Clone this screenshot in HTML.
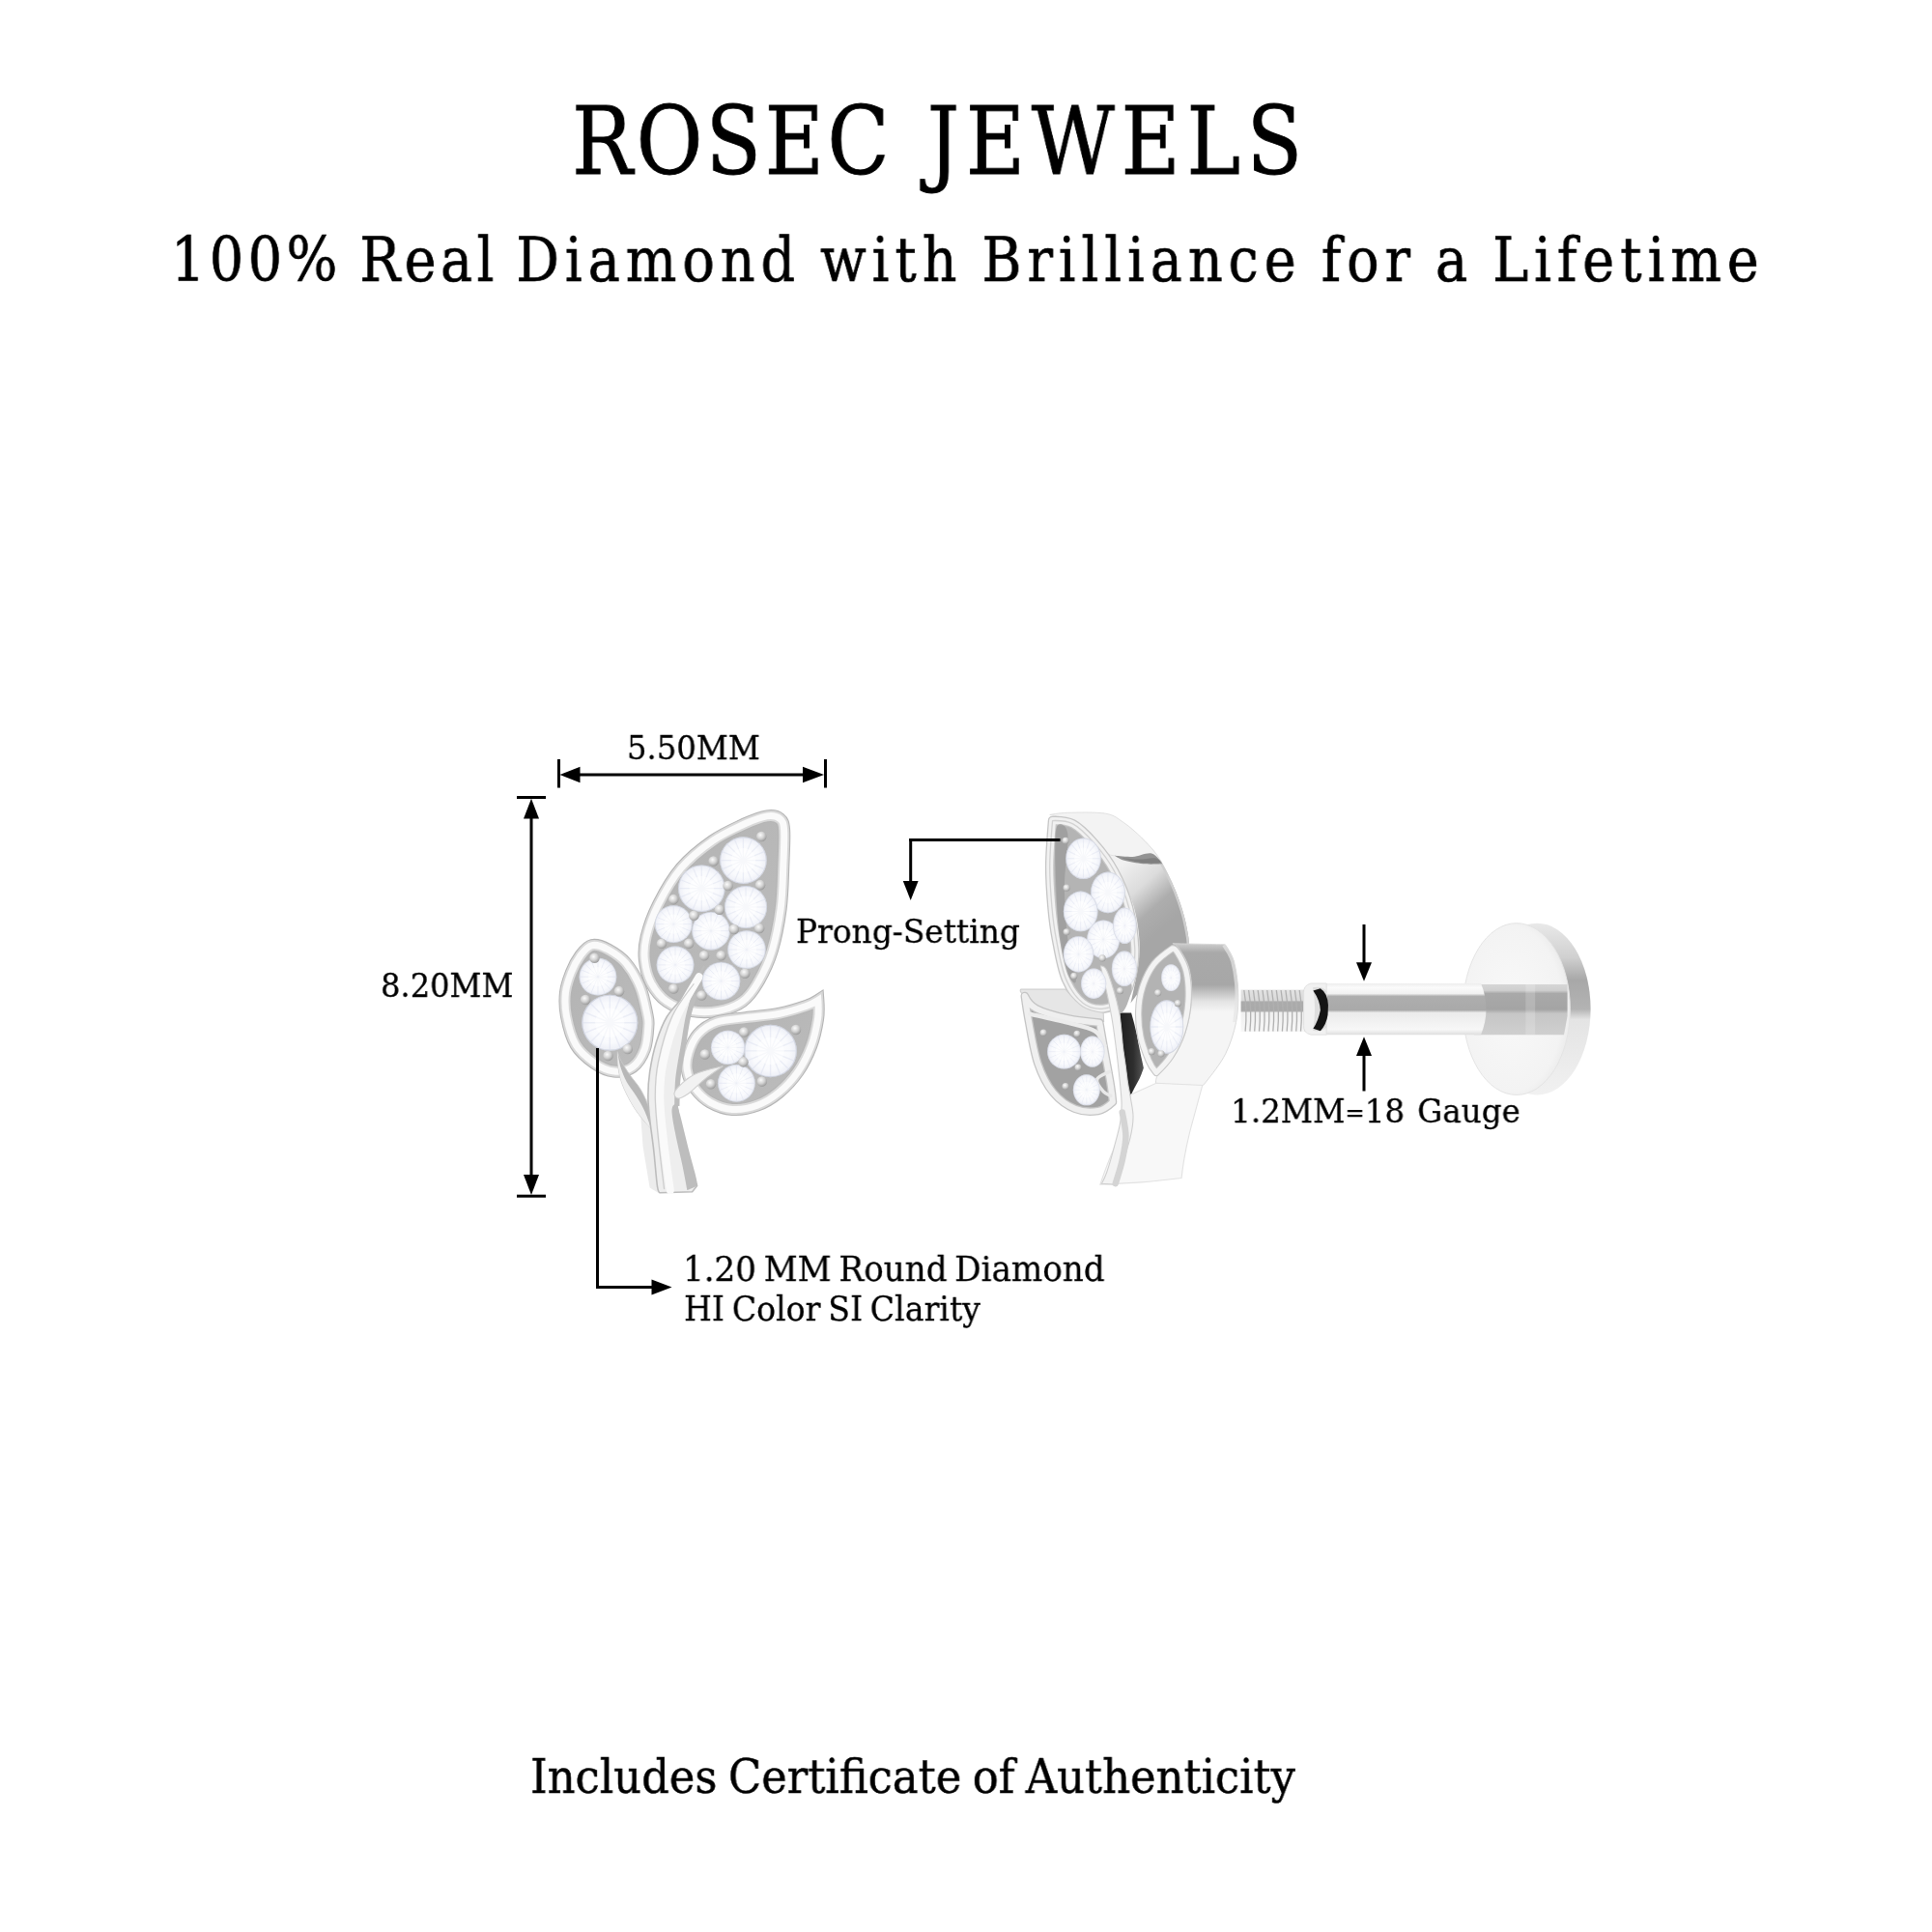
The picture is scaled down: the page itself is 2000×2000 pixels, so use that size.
<!DOCTYPE html>
<html lang="en">
<head>
<meta charset="utf-8">
<title>Rosec Jewels</title>
<style>
html,body{margin:0;padding:0;background:#fff;}
body{width:2000px;height:2000px;position:relative;overflow:hidden;font-family:"DejaVu Serif", "Liberation Serif", serif;color:#000;}
.t{position:absolute;white-space:nowrap;line-height:1;transform-origin:0 0;font-kerning:normal;will-change:transform;}
svg{position:absolute;left:0;top:0;}
</style>
</head>
<body>
<svg width="2000" height="2000" viewBox="0 0 2000 2000">
<defs>
<radialGradient id="gem" cx="50%" cy="50%" r="50%"><stop offset="0" stop-color="#fff"/><stop offset=".72" stop-color="#f9fafd"/><stop offset="1" stop-color="#eceef6"/></radialGradient>
<radialGradient id="bead" cx="40%" cy="35%" r="65%"><stop offset="0" stop-color="#fbfbfb"/><stop offset=".55" stop-color="#d2d2d2"/><stop offset="1" stop-color="#9c9c9c"/></radialGradient>
<linearGradient id="plate" x1="0" y1="0" x2="1" y2="1"><stop offset="0" stop-color="#b2b2b2"/><stop offset="1" stop-color="#bdbdbd"/></linearGradient>
<g id="dia"><circle r="100" fill="url(#gem)"/><path d="M0,-96L0,96M-96,0L96,0M-68,-68L68,68M-68,68L68,-68M-37,-89L37,89M37,-89L-37,89M-89,-37L89,37M-89,37L89,-37" stroke="#d6dbeb" stroke-width="5" fill="none" opacity=".42"/><circle r="52" fill="#fff" opacity=".55"/><circle r="98" fill="none" stroke="#b9bfce" stroke-width="4" opacity=".55"/></g>
<g id="pr"><circle r="30" fill="url(#bead)"/></g>
</defs>
<g id="earring-front" transform="translate(560,800) scale(0.17599)">
<path d="M630,1900L640,2036L665,2236L690,2470L640,2440L600,2200L585,2000Z" fill="#ececec"/>
<path d="M300,1015C327,1009 362,1022 395,1040C428,1058 469,1083 500,1120C531,1157 562,1211 583,1262C604,1313 617,1387 625,1425C633,1463 632,1457 630,1490C628,1523 625,1585 610,1625C595,1665 570,1708 540,1730C510,1752 468,1760 430,1756C392,1752 352,1734 315,1708C278,1682 232,1646 205,1600C178,1554 160,1482 150,1430C140,1378 140,1332 145,1290C150,1248 164,1211 178,1175C192,1139 212,1102 232,1075C252,1048 273,1021 300,1015Z" fill="url(#plate)" stroke="#b4b4b4" stroke-width="74" stroke-linejoin="round" stroke-miterlimit="6"/><path d="M300,1015C327,1009 362,1022 395,1040C428,1058 469,1083 500,1120C531,1157 562,1211 583,1262C604,1313 617,1387 625,1425C633,1463 632,1457 630,1490C628,1523 625,1585 610,1625C595,1665 570,1708 540,1730C510,1752 468,1760 430,1756C392,1752 352,1734 315,1708C278,1682 232,1646 205,1600C178,1554 160,1482 150,1430C140,1378 140,1332 145,1290C150,1248 164,1211 178,1175C192,1139 212,1102 232,1075C252,1048 273,1021 300,1015Z" fill="none" stroke="#d9d9d9" stroke-width="62" stroke-linejoin="round" stroke-miterlimit="6"/><path d="M300,1015C327,1009 362,1022 395,1040C428,1058 469,1083 500,1120C531,1157 562,1211 583,1262C604,1313 617,1387 625,1425C633,1463 632,1457 630,1490C628,1523 625,1585 610,1625C595,1665 570,1708 540,1730C510,1752 468,1760 430,1756C392,1752 352,1734 315,1708C278,1682 232,1646 205,1600C178,1554 160,1482 150,1430C140,1378 140,1332 145,1290C150,1248 164,1211 178,1175C192,1139 212,1102 232,1075C252,1048 273,1021 300,1015Z" fill="none" stroke="#fafafa" stroke-width="40" stroke-linejoin="round" stroke-miterlimit="6"/>
<path d="M1405,270C1388,256 1364,250 1330,255C1296,260 1253,276 1200,300C1147,324 1072,357 1010,400C948,443 878,498 825,560C772,622 724,708 690,775C656,842 633,911 620,965C607,1019 605,1055 610,1100C615,1145 626,1194 648,1235C670,1276 701,1318 740,1345C779,1372 829,1391 880,1400C931,1409 994,1409 1045,1400C1096,1391 1147,1372 1185,1345C1223,1318 1246,1285 1275,1235C1304,1185 1338,1118 1360,1045C1382,972 1399,882 1410,800C1421,718 1422,627 1425,550C1428,473 1433,387 1430,340C1427,293 1422,284 1405,270Z" fill="url(#plate)" stroke="#b4b4b4" stroke-width="74" stroke-linejoin="round" stroke-miterlimit="6"/><path d="M1405,270C1388,256 1364,250 1330,255C1296,260 1253,276 1200,300C1147,324 1072,357 1010,400C948,443 878,498 825,560C772,622 724,708 690,775C656,842 633,911 620,965C607,1019 605,1055 610,1100C615,1145 626,1194 648,1235C670,1276 701,1318 740,1345C779,1372 829,1391 880,1400C931,1409 994,1409 1045,1400C1096,1391 1147,1372 1185,1345C1223,1318 1246,1285 1275,1235C1304,1185 1338,1118 1360,1045C1382,972 1399,882 1410,800C1421,718 1422,627 1425,550C1428,473 1433,387 1430,340C1427,293 1422,284 1405,270Z" fill="none" stroke="#d9d9d9" stroke-width="62" stroke-linejoin="round" stroke-miterlimit="6"/><path d="M1405,270C1388,256 1364,250 1330,255C1296,260 1253,276 1200,300C1147,324 1072,357 1010,400C948,443 878,498 825,560C772,622 724,708 690,775C656,842 633,911 620,965C607,1019 605,1055 610,1100C615,1145 626,1194 648,1235C670,1276 701,1318 740,1345C779,1372 829,1391 880,1400C931,1409 994,1409 1045,1400C1096,1391 1147,1372 1185,1345C1223,1318 1246,1285 1275,1235C1304,1185 1338,1118 1360,1045C1382,972 1399,882 1410,800C1421,718 1422,627 1425,550C1428,473 1433,387 1430,340C1427,293 1422,284 1405,270Z" fill="none" stroke="#fafafa" stroke-width="40" stroke-linejoin="round" stroke-miterlimit="6"/>
<path d="M1630,1338C1630,1338 1598,1359 1560,1372C1522,1385 1464,1404 1405,1416C1346,1428 1267,1433 1205,1441C1143,1449 1082,1450 1035,1466C988,1482 952,1508 925,1538C898,1568 881,1610 870,1645C859,1680 854,1715 860,1750C866,1785 882,1824 905,1855C928,1886 958,1917 995,1938C1032,1959 1079,1977 1125,1980C1171,1983 1226,1973 1272,1956C1318,1939 1360,1913 1400,1880C1440,1847 1480,1804 1512,1758C1544,1712 1571,1656 1590,1605C1609,1554 1621,1494 1628,1450C1635,1406 1630,1338 1630,1338Z" fill="url(#plate)" stroke="#b4b4b4" stroke-width="74" stroke-linejoin="miter" stroke-miterlimit="6"/><path d="M1630,1338C1630,1338 1598,1359 1560,1372C1522,1385 1464,1404 1405,1416C1346,1428 1267,1433 1205,1441C1143,1449 1082,1450 1035,1466C988,1482 952,1508 925,1538C898,1568 881,1610 870,1645C859,1680 854,1715 860,1750C866,1785 882,1824 905,1855C928,1886 958,1917 995,1938C1032,1959 1079,1977 1125,1980C1171,1983 1226,1973 1272,1956C1318,1939 1360,1913 1400,1880C1440,1847 1480,1804 1512,1758C1544,1712 1571,1656 1590,1605C1609,1554 1621,1494 1628,1450C1635,1406 1630,1338 1630,1338Z" fill="none" stroke="#d9d9d9" stroke-width="62" stroke-linejoin="miter" stroke-miterlimit="6"/><path d="M1630,1338C1630,1338 1598,1359 1560,1372C1522,1385 1464,1404 1405,1416C1346,1428 1267,1433 1205,1441C1143,1449 1082,1450 1035,1466C988,1482 952,1508 925,1538C898,1568 881,1610 870,1645C859,1680 854,1715 860,1750C866,1785 882,1824 905,1855C928,1886 958,1917 995,1938C1032,1959 1079,1977 1125,1980C1171,1983 1226,1973 1272,1956C1318,1939 1360,1913 1400,1880C1440,1847 1480,1804 1512,1758C1544,1712 1571,1656 1590,1605C1609,1554 1621,1494 1628,1450C1635,1406 1630,1338 1630,1338Z" fill="none" stroke="#fafafa" stroke-width="40" stroke-linejoin="miter" stroke-miterlimit="6"/>
<path d="M450,1640C450,1640 450,1703 455,1736C460,1769 466,1799 480,1836C494,1873 520,1922 540,1956C560,1990 581,2016 600,2040C619,2064 655,2100 655,2100C655,2100 656,2043 650,2016C644,1989 633,1963 622,1936C611,1909 599,1883 582,1856C565,1829 540,1803 522,1776C504,1749 484,1719 472,1696C460,1673 450,1640 450,1640Z" fill="#b7b7b7" stroke="#c9c9c9" stroke-width="5"/>
<path d="M450,1640C450,1640 450,1703 455,1736C460,1769 466,1799 480,1836C494,1873 520,1922 540,1956C560,1990 582,2017 600,2040C618,2063 650,2096 650,2096C650,2096 625,2023 610,1990C595,1957 578,1928 560,1900C542,1872 520,1848 505,1820C490,1792 477,1760 468,1730C459,1700 450,1640 450,1640Z" fill="#efefef"/>
<path d="M960,1136C960,1136 887,1250 850,1300C813,1350 768,1389 740,1436C712,1483 697,1526 680,1580C663,1634 648,1707 640,1760C632,1813 630,1854 630,1900C630,1946 634,1980 640,2036C646,2092 658,2169 665,2236C672,2303 679,2397 685,2436C691,2475 700,2470 700,2470C700,2470 890,2465 890,2465C890,2465 918,2430 918,2430C918,2430 910,2388 900,2350C890,2312 873,2252 860,2200C847,2148 830,2078 820,2036C810,1994 803,1989 800,1950C797,1911 794,1858 800,1800C806,1742 825,1661 835,1600C845,1539 849,1489 860,1436C871,1383 883,1330 900,1280C917,1230 960,1136 960,1136Z" fill="#eeeeee" stroke="#bcbcbc" stroke-width="9"/>
<path d="M800,1950C808,1959 810,1994 820,2036C830,2078 847,2148 860,2200C873,2252 890,2312 900,2350C910,2388 918,2430 918,2430C918,2430 860,2455 860,2455C860,2455 842,2356 830,2300C818,2244 800,2173 790,2120C780,2067 768,2008 770,1980C772,1952 792,1941 800,1950Z" fill="#bdbdbd"/>
<path d="M905,1300C898,1323 877,1386 866,1436C855,1486 848,1539 838,1600C828,1661 812,1740 806,1800C800,1860 801,1933 800,1960" fill="none" stroke="#bdbdbd" stroke-width="30"/>
<path d="M930,1200C908,1239 835,1353 800,1436C765,1519 737,1623 720,1700C703,1777 700,1825 700,1900C700,1975 710,2058 720,2150C730,2242 753,2404 760,2455" fill="none" stroke="#fafafa" stroke-width="46" stroke-linecap="round"/>
<path d="M900,1240C878,1273 805,1359 770,1436C735,1513 706,1623 690,1700C674,1777 672,1825 672,1900C672,1975 681,2058 690,2150C699,2242 719,2400 725,2450" fill="none" stroke="#cdcdcd" stroke-width="7"/>
<path d="M790,1870C806,1847 853,1800 900,1776C947,1752 1070,1726 1070,1726C1070,1726 993,1778 960,1805C927,1832 896,1867 870,1885C844,1903 818,1918 805,1915C792,1912 774,1893 790,1870Z" fill="#f2f2f2" stroke="#cfcfcf" stroke-width="6"/>
<use href="#dia" transform="translate(1190,515) scale(1.38)"/>
<use href="#dia" transform="translate(945,680) scale(1.38)"/>
<use href="#dia" transform="translate(1205,790) scale(1.25)"/>
<use href="#dia" transform="translate(780,890) scale(1.10)"/>
<use href="#dia" transform="translate(1000,930) scale(1.12)"/>
<use href="#dia" transform="translate(1210,1040) scale(1.12)"/>
<use href="#dia" transform="translate(790,1130) scale(1.10)"/>
<use href="#dia" transform="translate(1060,1225) scale(1.12)"/>
<use href="#dia" transform="translate(335,1200) scale(1.10)"/>
<use href="#dia" transform="translate(405,1470) scale(1.65)"/>
<use href="#dia" transform="translate(1100,1616) scale(1.00)"/>
<use href="#dia" transform="translate(1350,1636) scale(1.55)"/>
<use href="#dia" transform="translate(1150,1826) scale(1.10)"/>
<use href="#pr" x="1297" y="375"/>
<use href="#pr" x="1015" y="520"/>
<use href="#pr" x="1290" y="660"/>
<use href="#pr" x="1100" y="665"/>
<use href="#pr" x="780" y="745"/>
<use href="#pr" x="1050" y="805"/>
<use href="#pr" x="900" y="840"/>
<use href="#pr" x="1285" y="915"/>
<use href="#pr" x="1135" y="920"/>
<use href="#pr" x="710" y="1005"/>
<use href="#pr" x="870" y="1005"/>
<use href="#pr" x="960" y="1075"/>
<use href="#pr" x="1060" y="1075"/>
<use href="#pr" x="1200" y="1180"/>
<use href="#pr" x="780" y="1270"/>
<use href="#pr" x="945" y="1310"/>
<use href="#pr" x="315" y="1090"/>
<use href="#pr" x="460" y="1285"/>
<use href="#pr" x="262" y="1335"/>
<use href="#pr" x="510" y="1625"/>
<use href="#pr" x="395" y="1665"/>
<use href="#pr" x="1500" y="1511"/>
<use href="#pr" x="1195" y="1526"/>
<use href="#pr" x="965" y="1656"/>
<use href="#pr" x="1190" y="1701"/>
<use href="#pr" x="1300" y="1816"/>
<use href="#pr" x="1000" y="1831"/>
</g>
<defs>
<linearGradient id="band1" gradientUnits="userSpaceOnUse" x1="560" y1="290" x2="800" y2="560"><stop offset="0" stop-color="#f1f1f1"/><stop offset=".4" stop-color="#dcdcdc"/><stop offset=".72" stop-color="#adadad"/><stop offset="1" stop-color="#a6a6a6"/></linearGradient>
<linearGradient id="band2" gradientUnits="userSpaceOnUse" x1="0" y1="680" x2="0" y2="1000"><stop offset="0" stop-color="#c9c9c9"/><stop offset=".12" stop-color="#a9a9a9"/><stop offset=".6" stop-color="#a7a7a7"/><stop offset=".85" stop-color="#e4e4e4"/><stop offset="1" stop-color="#f5f5f5"/></linearGradient><clipPath id="cb1"><path d="M215,62C215,62 256,53 300,52C344,51 436,48 481,56C526,64 538,80 567,99C596,118 628,148 652,171C676,194 695,214 712,236C729,258 741,275 755,300C769,325 785,358 798,386C811,414 822,442 832,471C842,500 851,528 858,557C865,586 871,618 875,643C879,668 880,705 880,705C880,705 807,718 760,760C713,802 600,960 600,960C600,960 629,833 636,780C643,727 644,687 640,640C636,593 628,545 615,500C602,455 582,413 560,370C538,327 508,278 481,240C454,202 424,167 395,141C366,115 339,99 309,86C279,73 215,62 215,62Z"/></clipPath><clipPath id="cb2"><path d="M800,675C800,675 1050,680 1050,680C1050,680 1082,723 1092,760C1102,797 1110,852 1112,900C1114,948 1112,1000 1102,1050C1092,1100 1075,1153 1052,1200C1029,1247 981,1305 962,1330C943,1355 940,1352 940,1352C940,1352 720,1342 720,1342C720,1342 717,1320 730,1300C743,1280 778,1253 800,1220C822,1187 845,1145 860,1100C875,1055 887,1000 890,950C893,900 890,842 880,800C870,758 845,721 832,700C819,679 800,675 800,675Z"/></clipPath>
<linearGradient id="thr" x1="0" y1="0" x2="0" y2="1"><stop offset="0" stop-color="#e2e2e2"/><stop offset=".25" stop-color="#dadada"/><stop offset=".29" stop-color="#ababab"/><stop offset=".5" stop-color="#a9a9a9"/><stop offset=".55" stop-color="#f0f0f0"/><stop offset="1" stop-color="#f7f7f7"/></linearGradient>
<linearGradient id="post" x1="0" y1="0" x2="0" y2="1"><stop offset="0" stop-color="#ededed"/><stop offset=".08" stop-color="#fbfbfb"/><stop offset=".2" stop-color="#f1f1f1"/><stop offset=".25" stop-color="#aeaeae"/><stop offset=".52" stop-color="#a9a9a9"/><stop offset=".57" stop-color="#ebebeb"/><stop offset=".9" stop-color="#f7f7f7"/><stop offset="1" stop-color="#dedede"/></linearGradient>
<linearGradient id="refl" x1="0" y1="0" x2="0" y2="1"><stop offset="0" stop-color="#d6d6d6"/><stop offset=".12" stop-color="#cfcfcf"/><stop offset=".18" stop-color="#a9a9a9"/><stop offset=".5" stop-color="#a4a4a4"/><stop offset=".58" stop-color="#c6c6c6"/><stop offset="1" stop-color="#cfcfcf"/></linearGradient>
<linearGradient id="rim" x1="0" y1="0" x2="0" y2="1"><stop offset="0" stop-color="#e9e9e9"/><stop offset=".2" stop-color="#d0d0d0"/><stop offset=".33" stop-color="#a8a8a8"/><stop offset=".5" stop-color="#b3b3b3"/><stop offset=".56" stop-color="#e4e4e4"/><stop offset="1" stop-color="#f1f1f1"/></linearGradient>
<linearGradient id="gap" gradientUnits="userSpaceOnUse" x1="550" y1="0" x2="665" y2="0"><stop offset="0" stop-color="#1f1f1f"/><stop offset=".55" stop-color="#2e2e2e"/><stop offset="1" stop-color="#5a5a5a"/></linearGradient><radialGradient id="face" cx="45%" cy="50%" r="60%"><stop offset="0" stop-color="#f9f9f9"/><stop offset=".8" stop-color="#f3f3f3"/><stop offset="1" stop-color="#e7e7e7"/></radialGradient>
</defs>
<g id="earring-side" transform="translate(1040,830) scale(0.21739)">
<path d="M215,62C215,62 256,53 300,52C344,51 436,48 481,56C526,64 538,80 567,99C596,118 628,148 652,171C676,194 695,214 712,236C729,258 741,275 755,300C769,325 785,358 798,386C811,414 822,442 832,471C842,500 851,528 858,557C865,586 871,618 875,643C879,668 880,705 880,705C880,705 807,718 760,760C713,802 600,960 600,960C600,960 629,833 636,780C643,727 644,687 640,640C636,593 628,545 615,500C602,455 582,413 560,370C538,327 508,278 481,240C454,202 424,167 395,141C366,115 339,99 309,86C279,73 215,62 215,62Z" fill="url(#band1)"/>
<path d="M652,171C662,182 695,214 712,236C729,258 741,275 755,300C769,325 785,358 798,386C811,414 822,442 832,471C842,500 851,528 858,557C865,586 871,618 875,643C879,668 879,695 880,705" fill="none" stroke="#cfcfcf" stroke-width="22" clip-path="url(#cb1)"/>
<path d="M215,62C215,62 256,53 300,52C344,51 436,48 481,56C526,64 538,80 567,99C596,118 628,148 652,171C676,194 696,216 712,236C728,256 748,288 748,288C748,288 689,295 652,290C615,285 524,256 524,256C524,256 502,259 481,240C460,221 424,167 395,141C366,115 339,99 309,86C279,73 215,62 215,62Z" fill="#f3f3f3" stroke="#dddddd" stroke-width="4"/>
<path d="M524,257C524,257 581,264 610,262C639,260 676,240 700,246C724,252 752,296 752,296C752,296 690,299 660,296C630,293 593,286 570,280C547,274 524,257 524,257Z" fill="#939393"/>
<path d="M560,268C558,265 614,274 640,274C666,274 698,265 715,268C732,271 751,286 740,290C729,294 680,294 650,290C620,286 562,271 560,268Z" fill="#6f6f6f" opacity=".55"/>
<path d="M228,90C228,90 216,232 215,300C214,368 220,442 225,500C230,558 234,593 245,650C256,707 269,789 290,840C311,891 342,934 372,958C402,982 439,988 470,985C501,982 538,963 560,940C582,917 593,885 603,845C613,805 622,757 620,700C618,643 608,567 592,505C576,443 550,382 522,330C494,278 458,232 425,195C392,158 358,122 325,105C292,88 228,90 228,90Z" fill="#b4b4b4" stroke="#c6c6c6" stroke-width="44" stroke-linejoin="round"/>
<path d="M228,90C228,90 216,232 215,300C214,368 220,442 225,500C230,558 234,593 245,650C256,707 269,789 290,840C311,891 342,934 372,958C402,982 439,988 470,985C501,982 538,963 560,940C582,917 593,885 603,845C613,805 622,757 620,700C618,643 608,567 592,505C576,443 550,382 522,330C494,278 458,232 425,195C392,158 358,122 325,105C292,88 228,90 228,90Z" fill="none" stroke="#f1f1f1" stroke-width="32" stroke-linejoin="round"/>
<path d="M228,90C228,90 216,232 215,300C214,368 220,442 225,500C230,558 234,593 245,650C256,707 269,789 290,840C311,891 342,934 372,958C402,982 439,988 470,985C501,982 538,963 560,940C582,917 593,885 603,845C613,805 622,757 620,700C618,643 608,567 592,505C576,443 550,382 522,330C494,278 458,232 425,195C392,158 358,122 325,105C292,88 228,90 228,90Z" fill="none" stroke="#d2d2d2" stroke-width="6" stroke-linejoin="round"/>
<path d="M245,130C254,88 293,105 300,150C307,195 285,317 285,400C285,483 291,575 300,650C309,725 340,822 340,850C340,878 313,853 300,820C287,787 271,720 262,650C253,580 248,487 245,400C242,313 236,172 245,130Z" fill="#8f8f8f" opacity=".55"/>
<path d="M78,893C78,893 290,893 290,893C290,893 342,956 372,975C402,994 470,1005 470,1005C470,1005 472,1046 472,1046C472,1046 354,1035 300,1024C246,1013 187,997 150,978C113,959 92,924 80,910C68,896 78,893 78,893Z" fill="#e6e6e6" stroke="#cfcfcf" stroke-width="5"/>
<path d="M96,925C96,925 116,967 150,985C184,1003 250,1021 300,1032C350,1043 452,1052 452,1052C452,1052 469,1150 478,1200C487,1250 499,1312 505,1350C511,1388 515,1430 515,1430C515,1430 475,1467 445,1472C415,1477 370,1476 335,1462C300,1448 262,1422 232,1386C202,1350 177,1301 158,1245C139,1189 126,1103 116,1050C106,997 96,925 96,925Z" fill="#a2a2a2" stroke="#c4c4c4" stroke-width="40" stroke-linejoin="round"/>
<path d="M96,925C96,925 116,967 150,985C184,1003 250,1021 300,1032C350,1043 452,1052 452,1052C452,1052 469,1150 478,1200C487,1250 499,1312 505,1350C511,1388 515,1430 515,1430C515,1430 475,1467 445,1472C415,1477 370,1476 335,1462C300,1448 262,1422 232,1386C202,1350 177,1301 158,1245C139,1189 126,1103 116,1050C106,997 96,925 96,925Z" fill="none" stroke="#efefef" stroke-width="28" stroke-linejoin="round"/>
<path d="M120,1010C150,1017 248,1038 300,1052C352,1066 401,1074 430,1092C459,1110 468,1149 476,1160" fill="none" stroke="#ececec" stroke-width="20" stroke-linecap="round"/>
<path d="M500,1285C490,1291 445,1306 440,1322C435,1338 459,1367 470,1380C481,1393 499,1397 505,1400" fill="none" stroke="#e8e8e8" stroke-width="16" stroke-linecap="round"/>
<path d="M549,1005C549,1005 603,1005 603,1005C603,1005 613,1039 617,1056C621,1073 625,1089 629,1107C633,1125 636,1146 640,1165C644,1184 648,1205 652,1222C656,1239 662,1267 662,1267C662,1267 650,1303 642,1319C634,1335 625,1350 617,1365C609,1380 595,1412 595,1412C595,1412 589,1363 586,1336C583,1309 579,1278 575,1250C571,1222 566,1194 563,1165C560,1136 557,1106 555,1079C553,1052 549,1005 549,1005Z" fill="url(#gap)"/>
<path d="M490,820C507,813 584,837 600,860C616,883 594,936 585,960C576,984 559,1015 545,1005C531,995 509,931 500,900C491,869 473,827 490,820Z" fill="#b5b5b5"/>
<path d="M800,675C800,675 1050,680 1050,680C1050,680 1082,723 1092,760C1102,797 1110,852 1112,900C1114,948 1112,1000 1102,1050C1092,1100 1075,1153 1052,1200C1029,1247 981,1305 962,1330C943,1355 940,1352 940,1352C940,1352 720,1342 720,1342C720,1342 717,1320 730,1300C743,1280 778,1253 800,1220C822,1187 845,1145 860,1100C875,1055 887,1000 890,950C893,900 890,842 880,800C870,758 845,721 832,700C819,679 800,675 800,675Z" fill="url(#band2)" stroke="#d6d6d6" stroke-width="4"/>
<path d="M1050,680C1057,693 1082,723 1092,760C1102,797 1110,852 1112,900C1114,948 1104,1025 1102,1050" fill="none" stroke="#e6e6e6" stroke-width="30" clip-path="url(#cb2)" opacity=".7"/>
<path d="M800,698C800,698 736,741 712,772C688,803 668,847 656,885C644,923 639,961 638,1000C637,1039 640,1079 648,1118C656,1157 674,1203 686,1232C698,1261 722,1290 722,1290C722,1290 769,1244 790,1212C811,1180 832,1140 846,1096C860,1052 871,998 874,950C877,902 873,845 864,806C855,767 833,734 822,716C811,698 800,698 800,698Z" fill="#b3b3b3" stroke="#c8c8c8" stroke-width="34" stroke-linejoin="round"/>
<path d="M800,698C800,698 736,741 712,772C688,803 668,847 656,885C644,923 639,961 638,1000C637,1039 640,1079 648,1118C656,1157 674,1203 686,1232C698,1261 722,1290 722,1290C722,1290 769,1244 790,1212C811,1180 832,1140 846,1096C860,1052 871,998 874,950C877,902 873,845 864,806C855,767 833,734 822,716C811,698 800,698 800,698Z" fill="none" stroke="#f3f3f3" stroke-width="24" stroke-linejoin="round"/>
<path d="M600,1395C600,1395 722,1340 722,1340C722,1340 942,1350 942,1350C942,1350 925,1412 915,1450C905,1488 890,1538 880,1580C870,1622 861,1665 855,1700C849,1735 842,1792 842,1792C842,1792 714,1807 650,1812C586,1817 455,1822 455,1822C455,1822 482,1744 500,1700C518,1656 545,1598 560,1560C575,1522 585,1498 592,1470C599,1442 600,1395 600,1395Z" fill="#f8f8f8" stroke="#e2e2e2" stroke-width="5"/>
<path d="M457,782C457,782 477,867 486,907C495,947 502,984 509,1022C516,1060 521,1098 526,1136C531,1174 536,1212 540,1250C544,1288 549,1332 552,1365C555,1398 558,1422 557,1450C556,1478 555,1503 549,1536C543,1569 530,1612 520,1650C510,1688 496,1737 486,1765C476,1793 462,1818 462,1818C462,1818 520,1822 520,1822C520,1822 547,1757 560,1720C573,1683 589,1637 598,1600C607,1563 612,1531 612,1500C612,1469 604,1439 600,1412C596,1385 590,1363 586,1336C582,1309 579,1278 575,1250C571,1222 566,1194 563,1165C560,1136 558,1106 555,1079C552,1052 551,1030 545,1000C539,970 530,933 520,900C510,867 496,820 485,800C474,780 457,782 457,782Z" fill="#f3f3f3" stroke="#cfcfcf" stroke-width="5"/>
<path d="M560,1479C563,1498 577,1555 577,1593C577,1631 568,1670 560,1707C552,1744 533,1800 528,1818" fill="none" stroke="#d4d4d4" stroke-width="30" stroke-linecap="round"/>
<use href="#dia" transform="translate(375,270) scale(0.84,0.98)"/>
<use href="#dia" transform="translate(492,432) scale(0.82,0.98)"/>
<use href="#dia" transform="translate(362,522) scale(0.82,0.96)"/>
<use href="#dia" transform="translate(470,655) scale(0.78,0.92)"/>
<use href="#dia" transform="translate(572,590) scale(0.56,0.86)"/>
<use href="#dia" transform="translate(352,726) scale(0.72,0.86)"/>
<use href="#dia" transform="translate(570,795) scale(0.60,0.84)"/>
<use href="#dia" transform="translate(424,866) scale(0.60,0.72)"/>
<use href="#dia" transform="translate(283,1190) scale(0.80,0.82)"/>
<use href="#dia" transform="translate(418,1190) scale(0.58,0.74)"/>
<use href="#dia" transform="translate(390,1372) scale(0.64,0.74)"/>
<use href="#dia" transform="translate(792,838) scale(0.46,0.64)"/>
<use href="#dia" transform="translate(772,1072) scale(0.80,1.28)"/>
<use href="#pr" transform="translate(290,185) scale(.55)"/>
<use href="#pr" transform="translate(295,410) scale(.55)"/>
<use href="#pr" transform="translate(295,620) scale(.55)"/>
<use href="#pr" transform="translate(330,830) scale(.55)"/>
<use href="#pr" transform="translate(465,745) scale(.55)"/>
<use href="#pr" transform="translate(550,900) scale(.55)"/>
<use href="#pr" transform="translate(185,1100) scale(.55)"/>
<use href="#pr" transform="translate(345,1105) scale(.55)"/>
<use href="#pr" transform="translate(350,1265) scale(.55)"/>
<use href="#pr" transform="translate(290,1355) scale(.55)"/>
<use href="#pr" transform="translate(730,910) scale(.55)"/>
<use href="#pr" transform="translate(825,960) scale(.55)"/>
<use href="#pr" transform="translate(700,1190) scale(.55)"/>
<use href="#pr" transform="translate(745,1200) scale(.55)"/>
<rect x="1125" y="895" width="360" height="200" fill="url(#thr)"/>
<g stroke="#b0b0b0" stroke-width="6" fill="none"><path d="M1140,897Q1156,995 1146,1093"/><path d="M1162,897Q1178,995 1168,1093"/><path d="M1184,897Q1200,995 1190,1093"/><path d="M1206,897Q1222,995 1212,1093"/><path d="M1228,897Q1244,995 1234,1093"/><path d="M1250,897Q1266,995 1256,1093"/><path d="M1272,897Q1288,995 1278,1093"/><path d="M1294,897Q1310,995 1300,1093"/><path d="M1316,897Q1332,995 1322,1093"/><path d="M1338,897Q1354,995 1344,1093"/><path d="M1360,897Q1376,995 1366,1093"/><path d="M1382,897Q1398,995 1388,1093"/><path d="M1404,897Q1420,995 1410,1093"/><path d="M1426,897Q1442,995 1432,1093"/><path d="M1448,897Q1464,995 1454,1093"/><path d="M1470,897Q1486,995 1476,1093"/></g>
</g>
<g id="post-disc" transform="translate(1300,900) scale(0.19670)">
<ellipse cx="1480" cy="735" rx="282" ry="452" fill="url(#rim)"/>
<ellipse cx="1372" cy="735" rx="282" ry="452" fill="url(#face)" stroke="#e3e3e3" stroke-width="5"/>
<path d="M1150,605L1640,605L1640,772L1622,870L1150,870Z" fill="url(#refl)"/>
<path d="M1420,605L1470,605L1470,870L1420,870Z" fill="#fff" opacity=".18"/>
<path d="M370,600L1185,600Q1240,735 1185,870L370,870Z" fill="url(#post)"/>
<path d="M290,600L372,600L372,870L290,870Q248,860 252,820L252,650Q250,610 290,600Z" fill="#f1f1f1" stroke="#e0e0e0" stroke-width="5"/>
<path d="M300,622Q345,610 372,640L372,830Q345,860 300,848Q322,735 300,622Z" fill="#dddddd"/>
<path d="M302,638L340,626Q378,650 381,714L379,765Q372,815 340,850L302,837Q328,800 340,741Q338,690 302,638Z" fill="#141414"/>
</g>
<g id="dims" fill="#000" stroke="none">
  <!-- width dimension 5.50MM -->
  <rect x="577" y="786" width="3" height="29.5"/>
  <rect x="853" y="786" width="3" height="29.5"/>
  <rect x="596" y="800.5" width="240" height="3"/>
  <polygon points="579.5,802 600.5,793.8 600.5,810.2"/>
  <polygon points="853,802 831,793.8 831,810.2"/>
  <!-- height dimension 8.20MM -->
  <rect x="535" y="824" width="30" height="3"/>
  <rect x="535" y="1236.7" width="30" height="3"/>
  <rect x="548.5" y="843" width="3" height="378"/>
  <polygon points="550,826.8 542,847.6 558,847.6"/>
  <polygon points="550,1237 542,1216 558,1216"/>
  <!-- diamond leader -->
  <rect x="617" y="1085" width="3" height="249"/>
  <rect x="617" y="1331" width="60" height="3"/>
  <polygon points="695.5,1332.5 674.5,1324.6 674.5,1340.4"/>
  <!-- prong leader -->
  <rect x="941.2" y="868" width="156.3" height="3"/>
  <rect x="941.2" y="868" width="3" height="46"/>
  <polygon points="942.7,932 934.8,912 950.6,912"/>
  <!-- gauge arrows -->
  <rect x="1410.5" y="957" width="3" height="41"/>
  <polygon points="1412,1015.8 1404,996.2 1420,996.2"/>
  <rect x="1410.5" y="1091" width="3" height="38.5"/>
  <polygon points="1412,1073.2 1404,1093 1420,1093"/>
</g>

</svg>
<div class="t" id="title" style="left:592.00px;top:98.10px;font-size:97.39px;word-spacing:10.42px;transform:scaleX(0.86);-webkit-text-stroke:0.9px #000;"><span style="letter-spacing:4.11px">ROSEC</span> <span style="letter-spacing:7.83px">JEWELS</span></div>
<div class="t" id="sub" style="left:177.00px;top:238.26px;font-size:63.23px;letter-spacing:6.745px;word-spacing:-4.085px;transform:scaleX(0.88);-webkit-text-stroke:0.7px #000;"><span style="letter-spacing:5.030px">100% Real </span>Diamond with Brilliance for a Lifetime</div>
<div class="t" id="w" style="left:649.00px;top:758.03px;font-size:33.95px;transform:scaleX(0.9500);-webkit-text-stroke:0.3px #000;">5.50MM</div>
<div class="t" id="h" style="left:394.00px;top:1003.49px;font-size:34.29px;transform:scaleX(0.9371);-webkit-text-stroke:0.3px #000;">8.20MM</div>
<div class="t" id="prong" style="left:824.25px;top:946.50px;font-size:34.28px;transform:scaleX(0.9582);-webkit-text-stroke:0.3px #000;">Prong-Setting</div>
<div class="t" id="gauge" style="left:1273.50px;top:1134.39px;font-size:33.23px;word-spacing:2.701px;transform:scaleX(0.9810);-webkit-text-stroke:0.3px #000;">1.2MM<span style="font-size:.74em;vertical-align:.09em">=</span>18 Gauge</div>
<div class="t" id="d1" style="left:706.50px;top:1296.91px;font-size:34.98px;word-spacing:-3.200px;transform:scaleX(0.9765);-webkit-text-stroke:0.3px #000;">1.20 MM Round Diamond</div>
<div class="t" id="d2" style="left:708.00px;top:1336.86px;font-size:35.33px;word-spacing:-3.022px;transform:scaleX(0.9387);-webkit-text-stroke:0.3px #000;">HI Color SI Clarity</div>
<div class="t" id="foot" style="left:548.50px;top:1815.16px;font-size:49.45px;word-spacing:-3.200px;transform:scaleX(0.9086);-webkit-text-stroke:0.5px #000;">Includes Certificate of Authenticity</div>
</body>
</html>
